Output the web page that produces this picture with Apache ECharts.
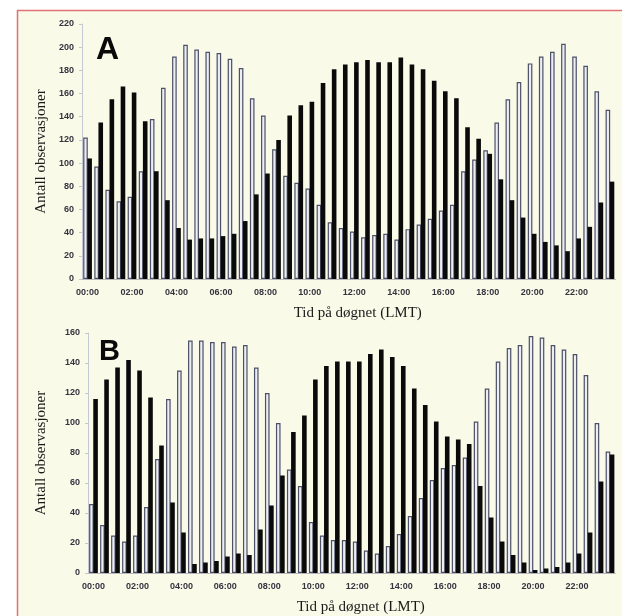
<!DOCTYPE html>
<html>
<head>
<meta charset="utf-8">
<script src="https://cdn.jsdelivr.net/npm/echarts@6/dist/echarts.min.js"></script>
<style>
    html, body { margin: 0; padding: 0; background: #ffffff; }
    #chart { width: 622px; height: 616px; }
</style>
</head>
<body>
<div id="chart"></div>
<script>
// halvtimes-kategorier
const hours = ['00:00', '00:30', '01:00', '01:30', '02:00', '02:30', '03:00', '03:30',
    '04:00', '04:30', '05:00', '05:30', '06:00', '06:30', '07:00', '07:30',
    '08:00', '08:30', '09:00', '09:30', '10:00', '10:30', '11:00', '11:30',
    '12:00', '12:30', '13:00', '13:30', '14:00', '14:30', '15:00', '15:30',
    '16:00', '16:30', '17:00', '17:30', '18:00', '18:30', '19:00', '19:30',
    '20:00', '20:30', '21:00', '21:30', '22:00', '22:30', '23:00', '23:30'];

// panel A
const aWhite = [122, 97, 77, 67, 71, 93, 138, 165, 192, 202, 198, 196, 195, 190, 182, 156,
    141, 112, 89, 83, 78, 64, 49, 44, 41, 36, 38, 39, 34, 43, 47, 52,
    59, 64, 93, 103, 111, 135, 155, 170, 186, 192, 196, 203, 192, 184, 162, 146];
const aBlack = [104, 135, 155, 166, 161, 136, 93, 68, 44, 34, 35, 35, 37, 39, 50, 73,
    91, 120, 141, 150, 153, 169, 181, 185, 187, 189, 187, 187, 191, 185, 181, 171,
    162, 156, 131, 121, 108, 86, 68, 53, 39, 32, 29, 24, 35, 45, 66, 84];

// panel B
const bWhite = [46, 32, 25, 21, 25, 44, 76, 116, 135, 155, 155, 154, 154, 151, 152, 137,
    120, 100, 69, 58, 34, 25, 22, 22, 21, 15, 13, 18, 26, 38, 50, 62,
    70, 72, 77, 101, 123, 141, 150, 152, 158, 157, 152, 149, 146, 132, 100, 81];
const bBlack = [116, 129, 137, 142, 135, 117, 85, 47, 27, 6, 7, 8, 11, 13, 12, 29,
    45, 65, 94, 105, 129, 138, 141, 141, 141, 146, 149, 144, 138, 123, 112, 101,
    91, 89, 86, 58, 37, 21, 12, 7, 2, 3, 4, 7, 13, 27, 61, 79];

const xTitle = 'Tid på døgnet (LMT)';
const yTitle = 'Antall observasjoner';

let mychart = echarts.init(document.getElementById('chart'));

const tickLabel = { color: '#34343f', fontSize: 9, fontWeight: 'bold', fontFamily: 'Liberation Sans, Arial' };
const nameStyle = { color: '#1a1a1a', fontSize: 15, fontFamily: 'Liberation Serif, Times New Roman, serif' };

function xAx(idx) {
    return {
        type: 'category',
        gridIndex: idx,
        data: hours,
        name: xTitle,
        nameLocation: 'middle',
        nameGap: 27,
        nameTextStyle: Object.assign({ padding: [0, 0, 0, 18] }, nameStyle),
        axisLine: { lineStyle: { color: '#b8b8b8', width: 1 } },
        axisTick: { interval: 0, length: 3, lineStyle: { color: '#b8b8b8' } },
        axisLabel: Object.assign({ interval: 3, margin: 9 }, tickLabel),
        splitLine: { show: false }
    };
}

function yAx(idx, max, gap) {
    return {
        type: 'value',
        gridIndex: idx,
        min: 0,
        max: max,
        interval: 20,
        name: yTitle,
        nameLocation: 'middle',
        nameGap: gap,
        nameTextStyle: nameStyle,
        axisLine: { show: true, lineStyle: { color: '#c4c8d0', width: 1 } },
        axisTick: { show: true, length: 3, lineStyle: { color: '#c4c8d0' } },
        axisLabel: Object.assign({ margin: 8 }, tickLabel),
        splitLine: { show: false }
    };
}

const whiteBar = { color: '#eceef2', borderColor: '#4c5068', borderWidth: 1.2 };
const blackBar = { color: '#0a0a0a' };

let option = {
    animation: false,
    graphic: [
        {
            type: 'rect', z: -10, silent: true,
            shape: { x: 17.5, y: 10.5, width: 700, height: 700 },
            style: { fill: '#fafae9', stroke: '#e07272', lineWidth: 1.5 }
        },
        {
            type: 'text', left: 96, top: 34,
            style: { text: 'A', font: 'bold 32px Liberation Sans, Arial', fill: '#0a0a0a' }
        },
        {
            type: 'text', left: 99, top: 337,
            style: { text: 'B', font: 'bold 29px Liberation Sans, Arial', fill: '#0a0a0a' }
        }
    ],
    grid: [
        { left: 82, right: 6.5, top: 24, height: 255 },
        { left: 88, right: 6.5, top: 333, height: 240 }
    ],
    xAxis: [xAx(0), xAx(1)],
    yAxis: [yAx(0, 220, 33), yAx(1, 160, 39)],
    series: [
        { type: 'bar', xAxisIndex: 0, yAxisIndex: 0, data: aWhite, barWidth: 4.6, barGap: '-10%', itemStyle: whiteBar },
        { type: 'bar', xAxisIndex: 0, yAxisIndex: 0, data: aBlack, barWidth: 4.6, barGap: '-10%', itemStyle: blackBar },
        { type: 'bar', xAxisIndex: 1, yAxisIndex: 1, data: bWhite, barWidth: 4.6, barGap: '-10%', itemStyle: whiteBar },
        { type: 'bar', xAxisIndex: 1, yAxisIndex: 1, data: bBlack, barWidth: 4.6, barGap: '-10%', itemStyle: blackBar }
    ]
};
mychart.setOption(option);
</script>
</body>
</html>
